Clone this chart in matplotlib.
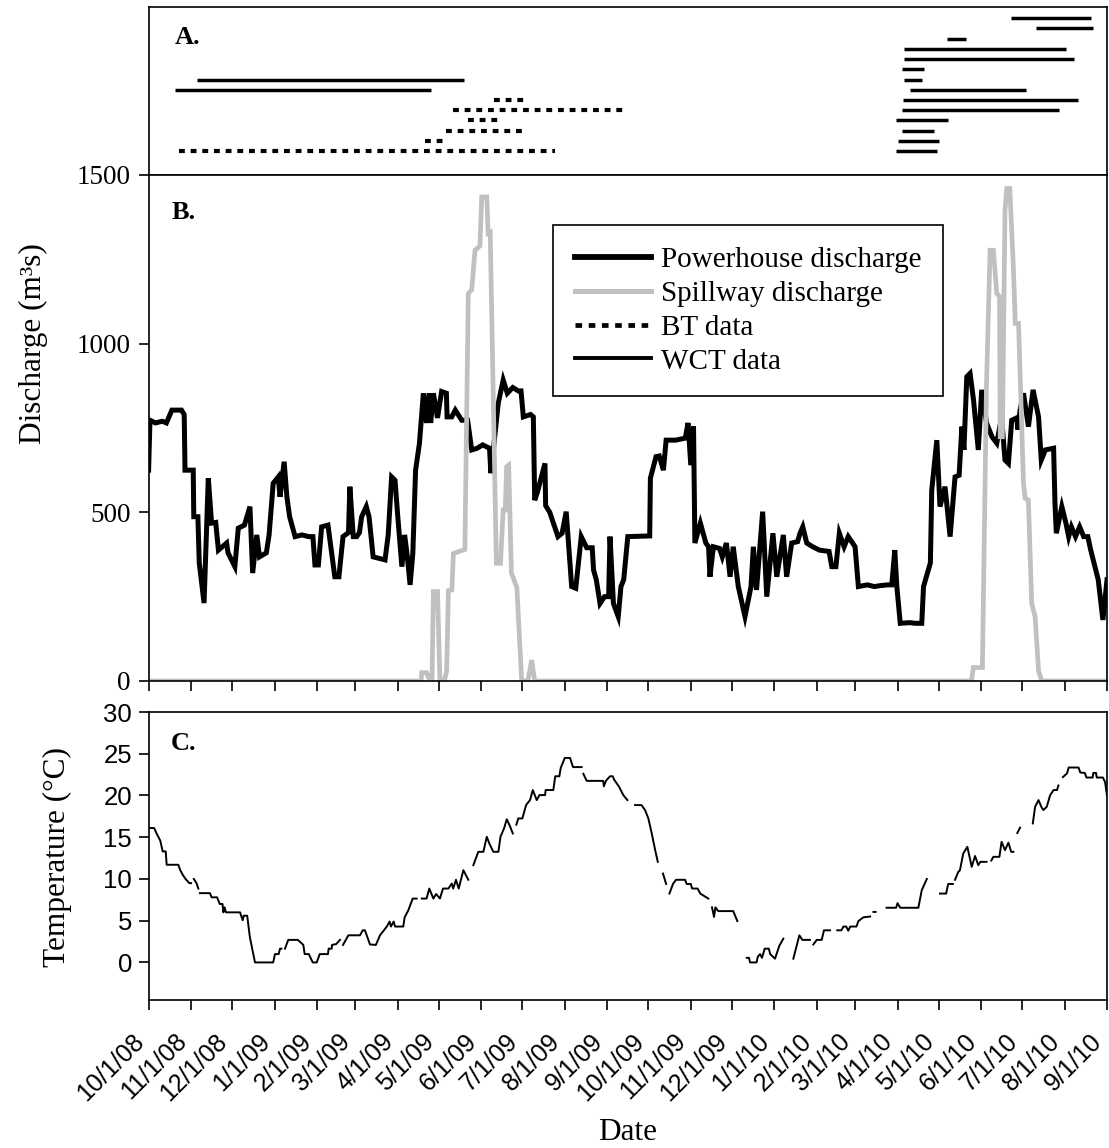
import numpy as np
import matplotlib
matplotlib.use("Agg")
import matplotlib.pyplot as plt
import matplotlib.dates as mdates
from matplotlib.lines import Line2D
from matplotlib.ticker import FuncFormatter, FixedLocator
import datetime as dt

START = dt.datetime(2008, 10, 1)
END = dt.datetime(2010, 9, 1)

# ---------------- Panel A: tracking periods (row index, start, end) ----------------
bt_row = [0, 1, 2, 3, 4, 5]
bt_start = ["2008-10-23", "2009-04-21", "2009-05-06", "2009-05-22", "2009-05-11", "2009-06-10"]
bt_end = ["2009-07-25", "2009-05-04", "2009-07-03", "2009-06-14", "2009-09-13", "2009-07-03"]

wct_row = [6, 7, 0, 1, 2, 3, 4, 5, 6, 7, 8, 9, 10, 11, 12, 13]
wct_start = ["2008-10-20", "2008-11-05", "2010-03-31", "2010-04-01", "2010-04-04", "2010-03-31",
             "2010-04-04", "2010-04-05", "2010-04-10", "2010-04-06", "2010-04-04", "2010-04-06",
             "2010-04-06", "2010-05-07", "2010-07-11", "2010-06-23"]
wct_end = ["2009-04-25", "2009-05-19", "2010-04-30", "2010-05-01", "2010-04-28", "2010-05-08",
           "2010-07-28", "2010-08-11", "2010-07-04", "2010-04-19", "2010-04-20", "2010-08-08",
           "2010-08-02", "2010-05-21", "2010-08-22", "2010-08-20"]

# ---------------- Panel B: discharge (days since 10/1/08, m3/s) ----------------
ph_day = [0, 1, 5, 10, 13, 17, 24, 26, 26.6, 32.6, 33, 36, 37, 40.5, 43.6, 46, 49, 51, 57, 58,
          63, 65.5, 70, 74, 76, 79, 81, 86, 88, 91, 94.7, 96, 99, 101, 103, 107, 112, 117, 120,
          121.5, 124, 126.4, 131, 136, 139, 142, 146, 147, 149.5, 152, 154, 155.6, 159, 161, 164,
          172.7, 175, 177.5, 180, 182, 185, 187, 189, 191, 193, 195, 197.8, 200.7, 203, 205, 206,
          208, 211, 214, 217.5, 218, 221.4, 224, 228.7, 233, 236, 240, 244, 249, 250, 255.4, 259,
          262, 266, 270, 272, 273.7, 279, 281, 282, 284, 289.5, 290, 293, 299, 302, 305, 309, 312,
          316, 320, 324, 325, 327, 329.7, 333, 336, 337, 339.5, 343, 345, 347, 350, 366, 366.5,
          370.6, 373, 376, 378, 385, 392, 394, 396, 398, 399, 403, 407, 409, 410, 412.5, 417, 419,
          422, 424.7, 427, 430.7, 435.6, 440, 441.7, 444, 448.5, 451.5, 456, 458.8, 463.6, 466,
          469.7, 474, 475.8, 477.8, 480.7, 485, 490, 497, 499, 502, 504.5, 508, 511, 516, 518.4,
          525, 530, 535, 540, 542.8, 545, 546.5, 549, 556, 560, 564.7, 566, 571, 572, 575.7, 578,
          581.7, 585.4, 589, 592, 594, 595.5, 597.6, 600, 602.5, 606, 608.5, 612, 616, 619.5, 623,
          625.5, 628, 630.4, 634, 635, 636.5, 639, 642.6, 646, 650, 652, 655, 661, 662, 663, 667,
          670, 672, 674, 677, 680, 683, 686, 688, 693.6, 697, 700]
ph_q = [625, 773, 765, 770, 765, 803, 803, 790, 625, 625, 487, 487, 350, 231, 601, 468, 470, 388, 409, 380,
        339, 453, 462, 517, 320, 433, 368, 380, 433, 586, 605, 546, 650, 546, 487, 428, 433, 428, 428,
        344, 344, 457, 462, 309, 309, 428, 440, 576, 428, 428, 440, 487, 517, 487, 368,
        359, 433, 605, 595, 487, 339, 433, 368, 285, 379, 625, 704, 853, 765, 853, 765,
        853, 780, 858, 853, 783, 783, 803, 773, 773, 685, 690, 700, 690, 616, 824, 892,
        853, 870, 860, 860, 783, 790, 783, 536, 560, 645, 520, 500, 428, 438, 502, 280, 275,
        428, 395, 395, 329, 300, 230, 250, 250, 428, 230, 191, 280, 300, 428, 430, 601,
        665, 667, 625, 714, 714, 720, 765, 640, 755, 409, 468, 409, 398, 309, 398, 393, 368,
        409, 309, 398, 280, 191, 280, 398, 270, 502, 250, 438, 309, 433, 309,
        409, 413, 438, 457, 409, 398, 388, 384, 339, 339, 438, 398, 428, 398, 280,
        285, 280, 283, 285, 285, 388, 280, 171, 173, 171, 171, 280, 350, 566, 714, 517,
        576, 428, 605, 610, 754, 685, 902, 912, 833, 685, 863, 765, 724, 705, 783,
        655, 645, 773, 780, 745, 803, 853, 754, 863, 783, 655, 685, 690, 527, 438, 517,
        468, 428, 457, 428, 457, 428, 428, 390, 300, 181, 300]

sp_day = [0, 199, 199.5, 203, 205.5, 207, 208, 211, 212.8, 216, 217.7, 219, 221.5, 222.6, 231, 233.5,
          236, 238.4, 242, 243.3, 247, 248, 249.5, 254, 257, 259, 260.5, 261.5, 263, 265, 269, 272.5,
          277, 279.8, 282, 601, 602.4, 609, 612, 614.6, 617, 619.5, 621.5, 622, 623.6, 625.5, 626.8,
          629, 631.6, 633, 635.4, 639, 640.3, 642.6, 645, 647.5, 650, 652.4, 700]
sp_q = [0, 0, 25, 25, 0, 0, 265, 265, 0, 0, 30, 268, 270, 378, 390, 1149,
        1160, 1277, 1290, 1435, 1435, 1327, 1330, 349, 349, 507, 507, 635, 640, 320, 276, 0,
        0, 62, 0, 0, 40, 40, 882, 1277, 1277, 1149, 1140, 724, 724, 1396, 1460,
        1460, 1228, 1060, 1060, 586, 541, 536, 230, 191, 30, 0, 0]

# ---------------- Panel C: water temperature (days since 10/1/08, deg C; nan = no data) ----------------
nan = np.nan
temp_day = [0.5, 4, 6, 8.5, 10.3, 12.5, 13.2, 21.7, 23, 24.9, 27, 29.7, 31, 31.5, 33, 35, 36.3, 36.8,
            37.5, 44.8, 46, 50, 52, 54, 54.6, 55.5, 56.5, 66.8, 68.7, 69.5, 72, 74, 77.7, 91, 92.3,
            95, 96, 97, 98, 99.6, 102, 109, 113, 114, 117, 119.9, 122.8, 125, 131, 131.5, 133.7,
            134, 137, 139.8, 140.5, 142, 145.9, 154.4, 156.4, 158, 161.7, 166, 169, 174, 176, 177,
            179, 180, 186, 187, 189.7, 192.9, 195.8, 197, 199.5, 203, 205, 208, 210, 212.8, 215,
            219, 221.4, 222.5, 224.5, 226.5, 229.9, 233.5, 235, 237.2, 240.8, 244.5, 247, 249,
            251.8, 255.5, 257, 259.6, 261.6, 264, 266, 267, 268.6, 270, 273, 275.7, 278.6, 280.6,
            283.5, 285.5, 289.6, 290, 295.6, 297, 300, 301, 304, 307.8, 310, 316.3, 317, 317.5,
            320, 332, 332.5, 334, 337, 339, 340, 343.6, 346.7, 349.7, 352, 355.3, 360, 362.6, 365,
            367.5, 370, 371.9, 374, 375.7, 378, 379, 380.4, 383, 385.2, 391.8, 393, 396, 397, 401,
            402.9, 408.8, 410, 411.5, 413, 414, 416, 427, 430, 433, 436.9, 438.5, 439.3, 444, 445,
            446.6, 448, 450, 453, 454, 457.5, 460.7, 463.6, 467, 470.9, 475.3, 477.5, 483, 484,
            485.5, 488, 491.6, 493.3, 497.7, 500, 503, 506, 507.5, 509.5, 511, 512.5, 517, 518.4,
            522, 527, 528, 529.4, 531, 535, 539, 546, 547, 549, 562.2, 564.7, 568.4, 573, 578,
            582.5, 584, 587.4, 588, 589, 591.4, 592.6, 595, 598, 601.2, 603.6, 606, 607.5, 612,
            614, 615.5, 617, 621.4, 623, 625.5, 628, 630, 631.6, 633, 634.5, 636.5, 640, 645.8,
            647.5, 650, 652, 653.5, 656, 658.5, 661, 663.5, 664.5, 666, 667.8, 670.8, 672, 679.2,
            680.5, 683.8, 685, 689.5, 690, 692, 692.5, 697, 698.6, 700]
temp_c = [16.1, 16.1, 15.4, 14.6, 13.3, 13.3, 11.7, 11.7, 11.1, 10.5, 10.0, 9.5, 9.5, nan, 10.0, 9.5, 8.85, nan,
          8.3, 8.3, 7.8, 7.8, 7.0, 7.0, 6.0, 6.6, 6.0, 6.0, 5.05, 5.6, 5.6, 3.0, 0, 0, 1.0,
          1.0, 1.65, 1.65, nan, 1.65, 2.7, 2.7, 2.1, 1.0, 1.0, 0, 0, 1.0, 1.0, 1.65, 1.65,
          2.1, 2.2, 2.7, nan, 2.1, 3.25, 3.25, 3.85, 3.85, 2.15, 2.1, 3.25, 4.3, 4.9, 4.3,
          4.9, 4.3, 4.3, 5.4, 6.25, 7.65, 7.65, nan, 7.65, 7.65, 8.85, 7.65, 8.2, 7.65, 8.85,
          8.85, 9.45, 8.85, 9.9, 8.85, 11.05, 9.9, nan, 11.65, 13.25, 13.25, 15.05, 14.2,
          13.25, 13.25, 15.05, 16.05, 17.15, 16.3, 15.45, nan, 16.5, 17.25, 17.25, 18.85, 19.45, 20.65,
          19.45, 20.05, 20.05, 20.65, 20.65, 22.3, 22.3, 23.3, 24.5, 24.5, 23.4, 23.4, nan, 22.6,
          21.75, 21.75, 21.1, 21.75, 22.3, 22.3, 21.9, 21.05, 20.05, 19.45, nan, 18.85, 18.85, 18.25, 17.25,
          15.45, 13.45, 12.05, nan, 10.65, 9.4, nan, 8.25, 9.4, 9.9, 9.9, 9.4, 9.4, 8.85, 8.85,
          8.25, 7.65, nan, 6.6, 5.45, 6.6, 6.15, 6.15, 4.95, nan, 0.55, 0.55, 0, 0, 0.7,
          1.0, 0.55, 1.65, 1.65, 1.0, 0.45, 2.0, 2.85, nan, 0.45, 3.25, 2.7, 2.7, nan,
          2.15, 2.7, 2.7, 3.85, 3.85, nan, 3.85, 3.85, 4.3, 4.3, 3.8, 4.3, 4.3, 4.95,
          5.4, 5.5, nan, 6.05, 6.05, nan, 6.55, 6.55, 7.1, 6.55, 6.55, 8.65, 10.0, nan, 8.25,
          8.25, 9.4, 9.4, nan, 9.9, 10.85, 11.05, 13.05, 13.85, 11.45, 12.75, 11.65, 12.05, 12.05,
          nan, 12.2, 12.65, 12.65, 14.45, 13.45, 14.35, 13.25, 13.25, nan, 15.5, 16.15, nan, 16.65,
          18.65, 19.45, 18.65, 18.25, 18.65, 20.05, 20.65, 20.65, 21.2, nan, 22.2, 22.65, 23.35, 23.35,
          22.75, 22.7, 22.15, 22.15, 22.7, 22.7, 22.15, 22.15, 21.6, 20.0]

# ---------------- styling ----------------
SERIF = "Liberation Serif"
SANS = "Liberation Sans"
GRAY = "#c0c0c0"
BT_STYLE = (0, (1.4, 1.4))

base = mdates.date2num(START)
xmin, xmax = mdates.date2num(START), mdates.date2num(END)

def dnum(s):
    return mdates.date2num(dt.datetime.strptime(s, "%Y-%m-%d"))

W, H = 1109, 1148
fig = plt.figure(figsize=(W / 100, H / 100), dpi=100)

def ax_rect(x0, y0, x1, y1):
    return [x0 / W, 1 - y1 / H, (x1 - x0) / W, (y1 - y0) / H]

axA = fig.add_axes(ax_rect(148.6, 7, 1107, 175))
axB = fig.add_axes(ax_rect(148.6, 175, 1107, 681))
axC = fig.add_axes(ax_rect(148.6, 712, 1107, 1000))

month_ticks = mdates.date2num([dt.datetime(2008 + (9 + i) // 12, (9 + i) % 12 + 1, 1) for i in range(24)])

def fmt(x, pos):
    d = mdates.num2date(x)
    return f"{d.month}/{d.day}/{d.strftime('%y')}"

for ax in (axA, axB, axC):
    ax.set_xlim(xmin, xmax)
    for sp in ax.spines.values():
        sp.set_linewidth(1.2)
        sp.set_color("black")

# Panel A
for r, s, e in zip(bt_row, bt_start, bt_end):
    axA.plot([dnum(s), dnum(e)], [r, r], color="black", lw=3.0, linestyle=BT_STYLE,
             solid_capstyle="butt", dash_capstyle="butt")
for r, s, e in zip(wct_row, wct_start, wct_end):
    axA.plot([dnum(s), dnum(e)], [r, r], color="black", lw=2.5, solid_capstyle="butt")
axA.set_ylim(-2.35, 14.1)
axA.set_xticks([])
axA.set_yticks([])
axA.text(0.0275, 0.82, "A.", transform=axA.transAxes, fontsize=19, fontweight="bold",
         family=SERIF, ha="left", va="center")

# Panel B
axB.plot(base + np.array(ph_day), ph_q, color="black", lw=3.6, solid_joinstyle="miter")
axB.plot(base + np.array(sp_day), sp_q, color=GRAY, lw=3.4, solid_joinstyle="miter")
axB.set_ylim(0, 1500)
axB.set_yticks([0, 500, 1000, 1500])
axB.xaxis.set_major_locator(FixedLocator(month_ticks))
axB.tick_params(axis="x", direction="out", length=7, width=1.2, labelbottom=False)
axB.tick_params(axis="y", direction="out", length=7, width=1.2, labelsize=19.5, pad=6)
for lab in axB.get_yticklabels():
    lab.set_family(SERIF)
axB.text(0.024, 0.925, "B.", transform=axB.transAxes, fontsize=19, fontweight="bold",
         family=SERIF, ha="left", va="center")

handles = [Line2D([], [], color="black", lw=4.2),
           Line2D([], [], color=GRAY, lw=3.6),
           Line2D([], [], color="black", lw=3.4, linestyle=BT_STYLE, dash_capstyle="butt"),
           Line2D([], [], color="black", lw=2.8)]
labels = ["Powerhouse discharge", "Spillway discharge", "BT data", "WCT data"]
leg = axB.legend(handles, labels, loc="upper left", bbox_to_anchor=(0.422, 0.901),
                 prop={"family": SERIF, "size": 21}, frameon=True, fancybox=False,
                 edgecolor="black", framealpha=1, handlelength=2.6, handletextpad=0.35,
                 labelspacing=0.25, borderpad=0.75, borderaxespad=0)
leg.get_frame().set_linewidth(1.2)

# Panel C
axC.plot(base + np.array(temp_day), temp_c, color="black", lw=1.4)
axC.set_ylim(-4.5, 30)
axC.set_yticks([0, 5, 10, 15, 20, 25, 30])
axC.xaxis.set_major_locator(FixedLocator(month_ticks))
axC.xaxis.set_major_formatter(FuncFormatter(fmt))
axC.tick_params(axis="x", direction="out", length=7, width=1.2, labelsize=18, pad=14)
axC.tick_params(axis="y", direction="out", length=7, width=1.2, labelsize=18.5, pad=5)
for lab in axC.get_xticklabels():
    lab.set_family(SANS)
    lab.set_rotation(45)
    lab.set_ha("right")
    lab.set_va("top")
for lab in axC.get_yticklabels():
    lab.set_family(SANS)
axC.text(0.023, 0.892, "C.", transform=axC.transAxes, fontsize=19, fontweight="bold",
         family=SERIF, ha="left", va="center")

# axis titles
fig.text(33 / W, 1 - 344 / H, "Discharge (m³s)", rotation=90, ha="center", va="center",
         family=SERIF, fontsize=22.5)
fig.text(57 / W, 1 - 857 / H, "Temperature (°C)", rotation=90, ha="center", va="center",
         family=SERIF, fontsize=22.5)
fig.text(628 / W, 1 - 1133 / H, "Date", ha="center", va="center", family=SERIF, fontsize=22.5)

fig.savefig("out.png", dpi=100)
